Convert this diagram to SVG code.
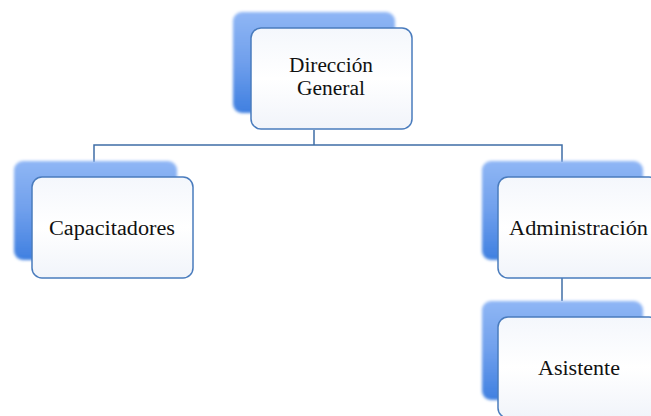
<svg xmlns="http://www.w3.org/2000/svg" width="651" height="416" viewBox="0 0 651 416">
<defs>
<linearGradient id="gBack" x1="0" y1="0" x2="0" y2="1">
<stop offset="0" stop-color="#8fb6f5"/>
<stop offset="0.5" stop-color="#6f9fec"/>
<stop offset="1" stop-color="#3f7fe0"/>
</linearGradient>
<linearGradient id="gFront" x1="0" y1="0" x2="0" y2="1">
<stop offset="0" stop-color="#f4f7fc"/>
<stop offset="0.5" stop-color="#ffffff"/>
<stop offset="1" stop-color="#f1f4fa"/>
</linearGradient>
<filter id="soft" x="-10%" y="-10%" width="120%" height="120%">
<feGaussianBlur stdDeviation="1.5"/>
</filter>
</defs>
<style>
.back{fill:url(#gBack);filter:url(#soft)}
.front{fill:url(#gFront);stroke:#4a7cbd;stroke-width:1.5}
.lbl{font-family:"Liberation Serif","DejaVu Serif",serif;font-size:20px;fill:#111;text-anchor:middle}
.conn{fill:none;stroke:#3f6ea6;stroke-width:1.5}
</style>
<rect width="651" height="416" fill="#ffffff"/>
<g id="connectors">
<path class="conn" d="M314,130 V145 M94,162 V145 H562 V162"/>
<path class="conn" d="M562,278 V301"/>
</g>
<g id="direccion">
<rect class="back" x="233" y="12" width="162" height="101" rx="9"/>
<rect class="front" x="251" y="28" width="161" height="101" rx="10"/>
<text class="lbl" x="331" y="72" textLength="84" lengthAdjust="spacingAndGlyphs">Dirección</text>
<text class="lbl" x="331" y="95" textLength="68" lengthAdjust="spacingAndGlyphs">General</text>
</g>
<g id="capacitadores">
<rect class="back" x="14" y="161" width="163" height="99" rx="9"/>
<rect class="front" x="32" y="177" width="161" height="101" rx="10"/>
<text class="lbl" x="112" y="235" textLength="126" lengthAdjust="spacingAndGlyphs">Capacitadores</text>
</g>
<g id="administracion">
<rect class="back" x="482" y="161" width="161" height="99" rx="9"/>
<rect class="front" x="498" y="177" width="161" height="101" rx="10"/>
<text class="lbl" x="578.5" y="235" textLength="139" lengthAdjust="spacingAndGlyphs">Administración</text>
</g>
<g id="asistente">
<rect class="back" x="482" y="301" width="161" height="99" rx="9"/>
<rect class="front" x="498" y="317" width="161" height="101" rx="10"/>
<text class="lbl" x="579" y="375" textLength="82" lengthAdjust="spacingAndGlyphs">Asistente</text>
</g>
</svg>
